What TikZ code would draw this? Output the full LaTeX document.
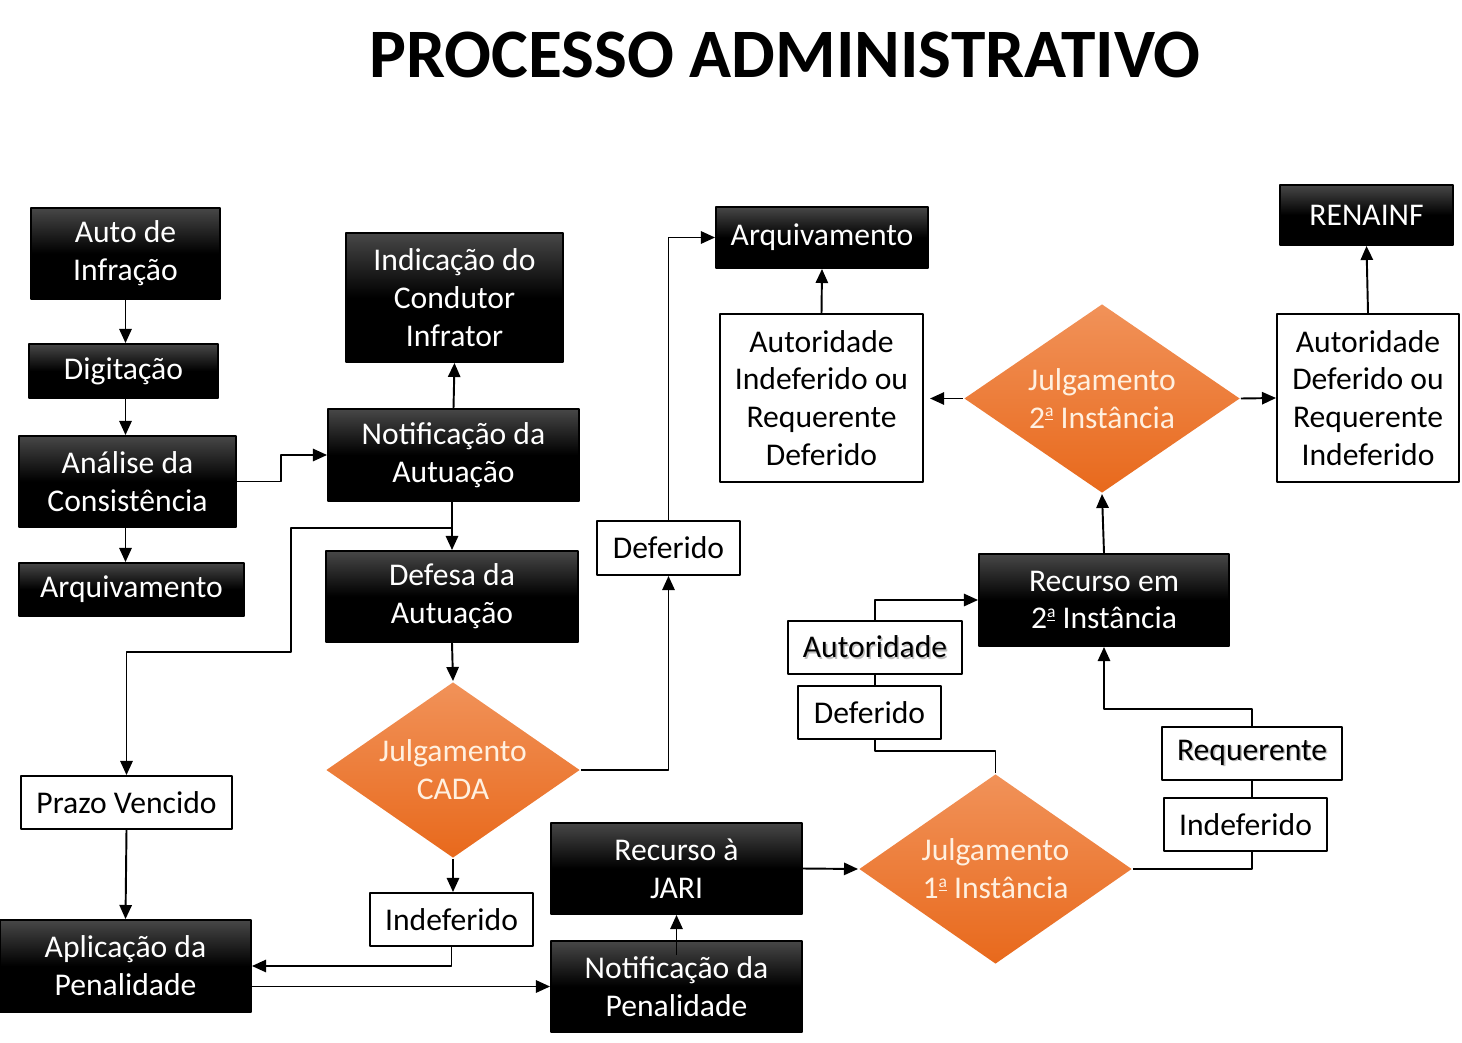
\documentclass[tikz,border=0pt]{standalone}
\usepackage{fontspec}
\setmainfont{Carlito}
\usetikzlibrary{shapes.geometric,arrows.meta}
\definecolor{laranjaA}{HTML}{F19259}
\definecolor{laranjaB}{HTML}{E8691C}
\newdimen\px \px=0.02cm
\newcommand\sombra[1]{\makebox[0pt][l]{\kern0.05em\raisebox{-0.05em}{\color{black!25}#1}}#1}
\newcommand\ordA{\raisebox{0.75ex}{\fontsize{10}{10}\selectfont\underline{a}}}
\begin{document}
\begin{tikzpicture}[x=1\px, y=-1\px, >={Triangle[length=8pt,width=7pt]}, line width=1.1pt, line join=round,
    font=\fontsize{18}{21.5}\selectfont,
    caixapreta/.style={rectangle, inner sep=0pt, align=center, text=white, draw=black, top color=black!72, bottom color=black, middle color=black},
    caixabranca/.style={rectangle, inner sep=0pt, align=center, draw=black, fill=white},
    decisao/.style={diamond, inner sep=0pt, align=center, text=white!88!orange, top color=laranjaA, bottom color=laranjaB}]
    \useasboundingbox (0,0) rectangle (1462,1043);
    \node (titulo) at (785,55) {\fontsize{39.5}{40}\selectfont\bfseries PROCESSO ADMINISTRATIVO};
    % coluna da esquerda
    \node[caixapreta, minimum width=189\px, minimum height=91\px] (auto) at (125.5,253.5) {Auto de\\Infração};
    \node[caixapreta, minimum width=189\px, minimum height=54\px] (digit) at (123.5,371) {Digitação};
    \node[caixapreta, minimum width=217\px, minimum height=91\px] (analise) at (127.5,481.5) {Análise da\\Consistência};
    \node[caixapreta, minimum width=225\px, minimum height=53\px] (arqA) at (131.5,589.5) {Arquivamento};
    \node[caixabranca, minimum width=211\px, minimum height=53\px] (prazo) at (126.5,802.5) {Prazo Vencido};
    \node[caixapreta, minimum width=251\px, minimum height=92\px] (aplic) at (125.5,966) {Aplicação da\\Penalidade};
    % coluna do meio
    \node[caixapreta, minimum width=217\px, minimum height=129\px] (indic) at (454.5,297.5) {Indicação do\\Condutor\\Infrator};
    \node[caixapreta, minimum width=251\px, minimum height=92\px] (notifA) at (453.5,455) {Notificação da\\Autuação};
    \node[caixapreta, minimum width=252\px, minimum height=91\px] (defesa) at (452,596.5) {Defesa da\\Autuação};
    \node[decisao, aspect=1.44, minimum width=254\px, minimum height=176\px] (jcada) at (453,770) {Julgamento\\CADA};
    \node[caixabranca, minimum width=163\px, minimum height=53\px] (indefA) at (451.5,919.5) {Indeferido};
    \node[caixabranca, minimum width=143\px, minimum height=54\px] (deferA) at (668.5,548) {Deferido};
    \node[caixapreta, minimum width=251\px, minimum height=91\px] (jari) at (676.5,868.5) {Recurso à\\JARI};
    \node[caixapreta, minimum width=251\px, minimum height=91\px] (notifP) at (676.5,986.5) {Notificação da\\Penalidade};
    % lado direito
    \node[caixapreta, minimum width=212\px, minimum height=61\px] (arqB) at (822,237.5) {Arquivamento};
    \node[caixabranca, minimum width=203\px, minimum height=168\px] (autInd) at (821.5,398) {Autoridade\\Indeferido ou\\Requerente\\Deferido};
    \node[decisao, aspect=1.46, minimum width=276\px, minimum height=189\px] (jdois) at (1102,398.5) {Julgamento\\2\ordA{} Instância};
    \node[caixabranca, minimum width=182\px, minimum height=168\px] (autDef) at (1368,398) {Autoridade\\Deferido ou\\Requerente\\Indeferido};
    \node[caixapreta, minimum width=173\px, minimum height=60\px] (renainf) at (1366.5,215) {RENAINF};
    \node[caixapreta, minimum width=250\px, minimum height=92\px] (recdois) at (1104,600) {Recurso em\\2\ordA{} Instância};
    \node[caixabranca, minimum width=174\px, minimum height=53\px] (autor) at (875,647.5) {\sombra{Autoridade}};
    \node[caixabranca, minimum width=143\px, minimum height=53\px] (deferB) at (869.5,712.5) {Deferido};
    \node[decisao, aspect=1.44, minimum width=273\px, minimum height=190\px] (jum) at (995.5,869) {Julgamento\\1\ordA{} Instância};
    \node[caixabranca, minimum width=180\px, minimum height=53\px] (requer) at (1252,753.5) {\sombra{Requerente}};
    \node[caixabranca, minimum width=163\px, minimum height=53\px] (indefB) at (1245.5,824.5) {Indeferido};
    \coordinate (desvio) at (452,528);
    % conectores
    \draw[->] (auto) -- (digit.north -| auto);
    \draw[->] (digit.south -| auto) -- (analise.north -| auto);
    \draw[->] (analise.south -| auto) -- (arqA.north -| auto);
    \draw[->] (analise.east) -- ++(44,0) |- (notifA.west);
    \draw[->] (notifA.north) -- (indic.south);
    \draw[->] (notifA.south -| desvio) -- (defesa.north -| desvio);
    \draw[->] (desvio) -| (291,652) -| (prazo.north);
    \draw[->] (defesa.south) -- (jcada.north);
    \draw[->] (jcada.east) -| (deferA.south);
    \draw[->] (deferA.north) |- (arqB.west);
    \draw[->] (jcada.south) -- (indefA.north -| jcada.south);
    \draw[->] (indefA.south) |- (aplic.east);
    \draw[->] (prazo.south) -- (aplic.north);
    \draw[->] (aplic.east |- notifP.west) -- (notifP.west);
    \draw[->] ([yshift=-0.3cm]notifP.north) -- (jari.south);
    \draw[->] (jari.east) -- (jum.west);
    \draw (jum.north) -- ++(0,-22) -| (autor.south |- deferB.south);
    \draw (autor.south |- deferB.north) -- (autor.south);
    \draw[->] (autor.north) |- (recdois.west);
    \draw (jum.east) -| (requer.south |- indefB.south);
    \draw (requer.south |- indefB.north) -- (requer.south);
    \draw[->] (requer.north) -- ++(0,-17) -| (recdois.south);
    \draw[->] (recdois.north) -- (jdois.south);
    \draw[->] (jdois.west) -- ++(-33,0);
    \draw[->] (jdois.east) -- (autDef.west);
    \draw[->] (autInd.north) -- (arqB.south);
    \draw[->] (autDef.north) -- (renainf.south);
\end{tikzpicture}
\end{document}
